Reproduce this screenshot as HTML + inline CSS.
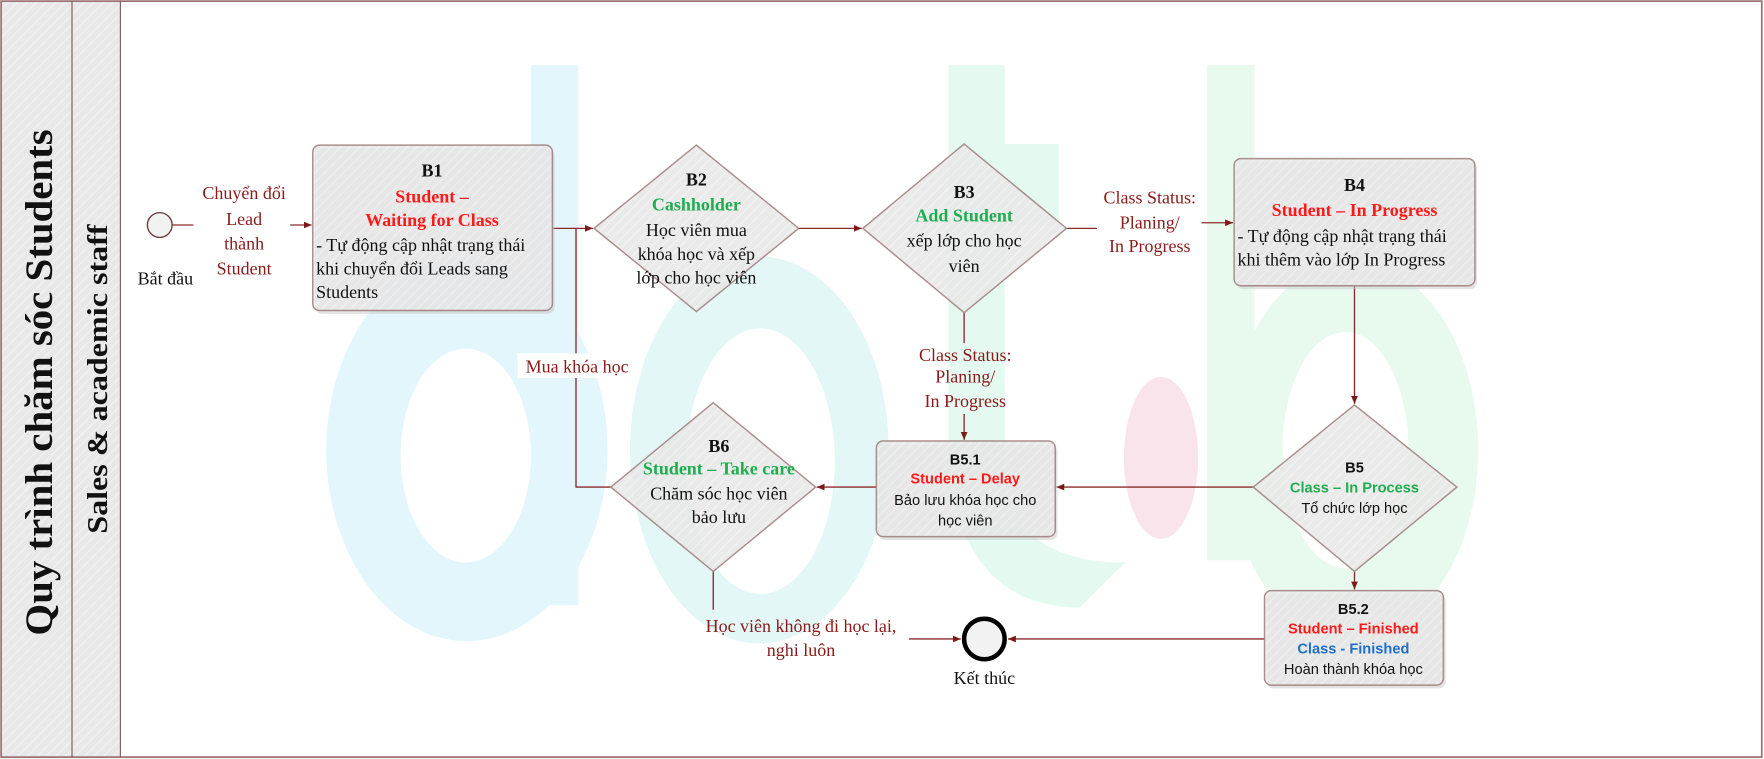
<!DOCTYPE html>
<html><head><meta charset="utf-8">
<style>
html,body{margin:0;padding:0;background:#fff;}
svg{display:block;}
.s{font-family:"Liberation Serif",serif;font-size:16px;}
.a{font-family:"Liberation Sans",sans-serif;font-size:13px;}
.lbl{fill:#8b1a1a;}
</style></head>
<body>
<svg width="1764" height="759" viewBox="0 0 1568 674.7" preserveAspectRatio="none" xmlns="http://www.w3.org/2000/svg">
<defs>
<pattern id="h" width="6" height="6" patternUnits="userSpaceOnUse" patternTransform="rotate(45)">
<rect width="6" height="6" fill="#e8e8e8"/><line x1="0" y1="0" x2="0" y2="6" stroke="#f2f2f2" stroke-width="2"/>
</pattern>
<marker id="ar" markerWidth="8" markerHeight="8" refX="7" refY="4" orient="auto" markerUnits="userSpaceOnUse">
<path d="M0,1 L7,4 L0,7 Z" fill="#7a1a1a"/>
</marker>
</defs>
<rect x="0" y="0" width="1568" height="675" fill="#fff"/>
<g>
<rect x="472" y="58" width="42" height="480" fill="#e2f6fb"/>
<path fill="#e2f6fb" fill-rule="evenodd" d="M290,400 a125,170 0 1,0 250,0 a125,170 0 1,0 -250,0 Z M356,405 a58,95 0 1,0 116,0 a58,95 0 1,0 -116,0 Z"/>
<path fill="#e3f7f7" fill-rule="evenodd" d="M560,400 a115,172 0 1,0 230,0 a115,172 0 1,0 -230,0 Z M610,410 a66,118 0 1,0 132,0 a66,118 0 1,0 -132,0 Z"/>
<rect x="843" y="58" width="50" height="370" fill="#e4f9f0"/>
<rect x="893" y="128" width="48" height="72" fill="#e4f9f0"/>
<path fill="#e4f9f0" d="M843,420 Q860,540 960,540 L1000,500 Q900,500 893,420 Z"/>
<rect x="1073" y="58" width="42" height="440" fill="#e8faee"/>
<path fill="#e8faee" fill-rule="evenodd" d="M1090,400 a112,168 0 1,0 224,0 a112,168 0 1,0 -224,0 Z M1140,400 a56,105 0 1,0 112,0 a56,105 0 1,0 -112,0 Z"/>
<ellipse cx="1032" cy="407" rx="33" ry="72" fill="#f8e4ea"/>
</g>
<rect x="1" y="1" width="63" height="672" fill="url(#h)"/>
<rect x="64" y="1" width="43" height="672" fill="url(#h)"/>
<rect x="1" y="1" width="1565" height="672" fill="none" stroke="#9a6e6e" stroke-width="1.5"/>
<line x1="64" y1="1" x2="64" y2="673" stroke="#7a5a5a"/>
<line x1="107" y1="1" x2="107" y2="673" stroke="#7a5a5a"/>
<text transform="translate(46,340) rotate(-90)" text-anchor="middle" font-family="Liberation Serif,serif" font-weight="bold" font-size="35" fill="#111" textLength="450" lengthAdjust="spacingAndGlyphs">Quy trình chăm sóc Students</text>
<text transform="translate(95,337) rotate(-90)" text-anchor="middle" font-family="Liberation Serif,serif" font-weight="bold" font-size="25" fill="#111" textLength="275" lengthAdjust="spacingAndGlyphs">Sales &amp; academic staff</text>

<g stroke="#8b2a2a" stroke-width="1.2" fill="none">
<line x1="153" y1="200" x2="172" y2="200"/>
<line x1="258" y1="200" x2="277" y2="200" marker-end="url(#ar)"/>
<line x1="491" y1="203" x2="527" y2="203" marker-end="url(#ar)"/>
<polyline points="543,433 512,433 512,203"/>
<line x1="710" y1="203" x2="766" y2="203" marker-end="url(#ar)"/>
<line x1="948" y1="203" x2="975" y2="203"/>
<line x1="1068" y1="198" x2="1096" y2="198" marker-end="url(#ar)"/>
<line x1="1204" y1="254" x2="1204" y2="359" marker-end="url(#ar)"/>
<line x1="1114" y1="433" x2="939" y2="433" marker-end="url(#ar)"/>
<line x1="857" y1="278" x2="857" y2="305"/>
<line x1="857" y1="368" x2="857" y2="391" marker-end="url(#ar)"/>
<line x1="779" y1="433" x2="726" y2="433" marker-end="url(#ar)"/>
<line x1="634" y1="508" x2="634" y2="542"/>
<line x1="808" y1="568" x2="854" y2="568" marker-end="url(#ar)"/>
<line x1="1204" y1="508" x2="1204" y2="524" marker-end="url(#ar)"/>
<line x1="1124" y1="568" x2="896" y2="568" marker-end="url(#ar)"/>
</g>

<circle cx="142" cy="200" r="11" fill="#f2f2f2" stroke="#6b3a3a" stroke-width="1.2"/>
<text x="147" y="253" class="s" text-anchor="middle" fill="#111">Bắt đầu</text>
<circle cx="875" cy="568" r="18" fill="#f2f2f2" stroke="#000" stroke-width="4"/>
<text x="875" y="608" class="s" text-anchor="middle" fill="#111">Kết thúc</text>

<g fill="#c8c8c8" opacity="0.5" transform="translate(2,3)">
<rect x="278" y="129" width="213" height="147" rx="6"/>
<rect x="1097" y="141" width="214" height="113" rx="6"/>
<rect x="779" y="392" width="159" height="85" rx="6"/>
<rect x="1124" y="525" width="159" height="84" rx="6"/>
</g>
<g fill="url(#h)" stroke="#a07e7e" stroke-width="1.3" opacity="0.88">
<rect x="278" y="129" width="213" height="147" rx="6"/>
<polygon points="528,203 619,129 710,203 619,277"/>
<polygon points="767,203 857,128 948,203 857,278"/>
<rect x="1097" y="141" width="214" height="113" rx="6"/>
<polygon points="1114,433 1204,360 1295,433 1204,508"/>
<rect x="779" y="392" width="159" height="85" rx="6"/>
<polygon points="543,433 634,358 725,433 634,508"/>
<rect x="1124" y="525" width="159" height="84" rx="6"/>
</g>

<g class="s lbl" text-anchor="middle">
<text x="217" y="177">Chuyển đổi</text>
<text x="217" y="200">Lead</text>
<text x="217" y="222">thành</text>
<text x="217" y="244">Student</text>
<rect x="460" y="314" width="106" height="22" fill="#fff" stroke="none"/>
<text x="513" y="331">Mua khóa học</text>
<text x="1022" y="181">Class Status:</text>
<text x="1022" y="203">Planing/</text>
<text x="1022" y="224">In Progress</text>
<text x="858" y="321">Class Status:</text>
<text x="858" y="340">Planing/</text>
<text x="858" y="362">In Progress</text>
<text x="712" y="562">Học viên không đi học lại,</text>
<text x="712" y="583">nghi luôn</text>
</g>

<g class="s" text-anchor="middle">
<text x="384" y="157" font-weight="bold" fill="#111">B1</text>
<text x="384" y="180" font-weight="bold" fill="#ff1a1a">Student –</text>
<text x="384" y="201" font-weight="bold" fill="#ff1a1a">Waiting for Class</text>
</g>
<g class="s" fill="#111">
<text x="281" y="223">- Tự động cập nhật trạng thái</text>
<text x="281" y="244">khi chuyển đổi Leads sang</text>
<text x="281" y="265">Students</text>
</g>
<g class="s" text-anchor="middle">
<text x="619" y="165" font-weight="bold" fill="#111">B2</text>
<text x="619" y="187" font-weight="bold" fill="#1fae4f">Cashholder</text>
<text x="619" y="210" fill="#111">Học viên mua</text>
<text x="619" y="231" fill="#111">khóa học và xếp</text>
<text x="619" y="252" fill="#111">lớp cho học viên</text>
</g>
<g class="s" text-anchor="middle">
<text x="857" y="176" font-weight="bold" fill="#111">B3</text>
<text x="857" y="197" font-weight="bold" fill="#1fae4f">Add Student</text>
<text x="857" y="219" fill="#111">xếp lớp cho học</text>
<text x="857" y="242" fill="#111">viên</text>
</g>
<g class="s">
<text x="1204" y="170" text-anchor="middle" font-weight="bold" fill="#111">B4</text>
<text x="1204" y="192" text-anchor="middle" font-weight="bold" fill="#ff1a1a">Student – In Progress</text>
<text x="1100" y="215" fill="#111">- Tự động cập nhật trạng thái</text>
<text x="1100" y="236" fill="#111">khi thêm vào lớp In Progress</text>
</g>
<g class="a" text-anchor="middle">
<text x="1204" y="420" font-weight="bold" fill="#111">B5</text>
<text x="1204" y="438" font-weight="bold" fill="#1fae4f">Class – In Process</text>
<text x="1204" y="456" fill="#111">Tổ chức lớp học</text>
</g>
<g class="a" text-anchor="middle">
<text x="858" y="413" font-weight="bold" fill="#111">B5.1</text>
<text x="858" y="430" font-weight="bold" fill="#ff1a1a">Student – Delay</text>
<text x="858" y="449" fill="#111">Bảo lưu khóa học cho</text>
<text x="858" y="467" fill="#111">học viên</text>
</g>
<g class="s" text-anchor="middle">
<text x="639" y="402" font-weight="bold" fill="#111">B6</text>
<text x="639" y="422" font-weight="bold" fill="#1fae4f">Student – Take care</text>
<text x="639" y="444" fill="#111">Chăm sóc học viên</text>
<text x="639" y="465" fill="#111">bảo lưu</text>
</g>
<g class="a" text-anchor="middle">
<text x="1203" y="546" font-weight="bold" fill="#111">B5.2</text>
<text x="1203" y="563" font-weight="bold" fill="#ff1a1a">Student – Finished</text>
<text x="1203" y="581" font-weight="bold" fill="#1f6fc6">Class - Finished</text>
<text x="1203" y="599" fill="#111">Hoàn thành khóa học</text>
</g>
</svg>
</body></html>
